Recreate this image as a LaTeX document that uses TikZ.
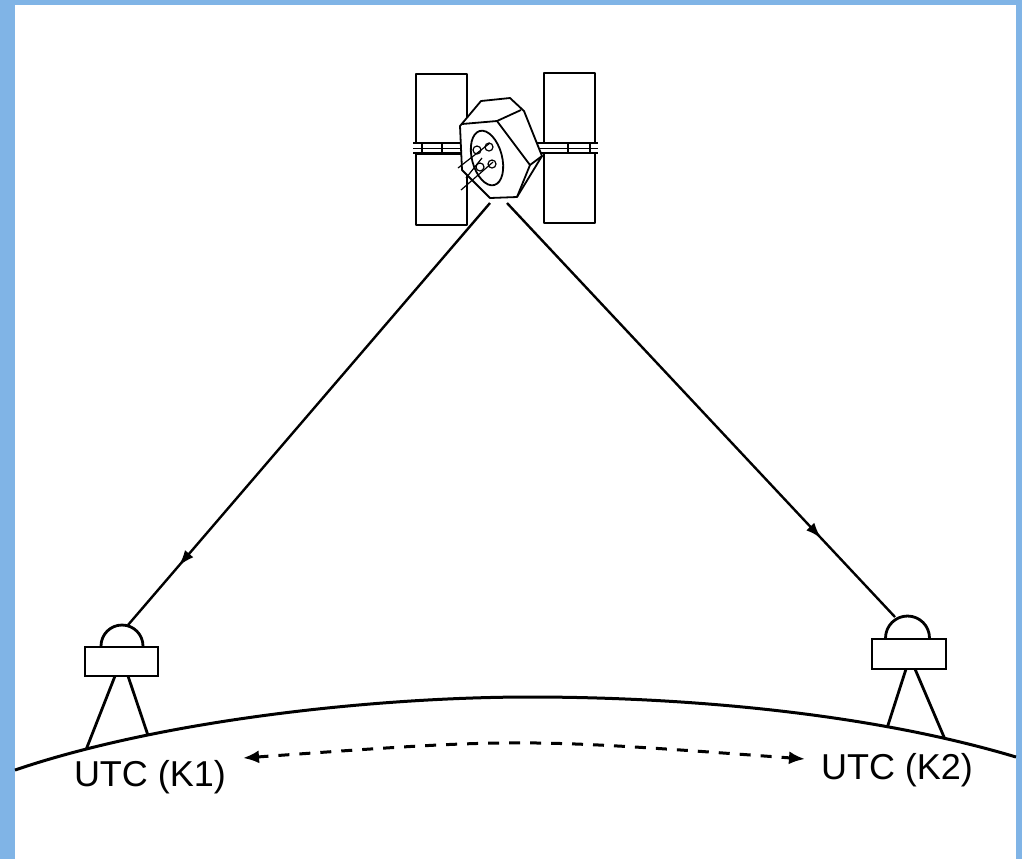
\documentclass[tikz,border=0pt]{standalone}
\usepackage{fontspec}
\setmainfont{Liberation Sans}
\usetikzlibrary{arrows.meta,decorations.markings,intersections}
\definecolor{frameblue}{RGB}{128,180,230}
\begin{document}
\begin{tikzpicture}[x=0.5pt,y=-0.5pt,
  thinline/.style={line width=0.9pt, line join=round},
  ground/.style={line width=1.5pt},
  stand/.style={line width=1.4pt},
  signal/.style={line width=1.2pt, postaction={decorate},
    decoration={markings, mark=at position #1 with {\arrow{Latex[length=8pt,width=5.5pt]}}}},
  link/.style={line width=1.5pt, dash pattern=on 5.5pt off 5pt, {Latex[length=8pt,width=6.5pt]}-{Latex[length=8pt,width=6.5pt]}},
  utc/.style={font=\fontsize{18pt}{20pt}\selectfont, inner sep=0pt}]

% frame and canvas
\fill[frameblue] (0,0) rectangle (1022,859);
\fill[white] (15,5) rectangle (1016,859);

% ---------- satellite ----------
% solar panels
\draw[thinline] (416,74) rectangle (467,143);
\draw[thinline] (416,154) rectangle (467,225);
\draw[thinline] (544,73) rectangle (595,143);
\draw[thinline] (544,153) rectangle (595,223);
% booms
\draw[thinline] (413,143) -- (465,143) (413,153) -- (465,153);
\draw[line width=0.5pt] (413,148) -- (465,148);
\draw[thinline] (422,143) -- (422,153) (442,143) -- (442,153);
\draw[thinline] (520,143) -- (598,143) (540,153) -- (598,153);
\draw[line width=0.5pt] (540,148) -- (598,148);
\draw[thinline] (568,143) -- (568,153) (590,143) -- (590,153);
% body
\draw[thinline, fill=white] (460,126) -- (481,101) -- (510,98) -- (524,111) -- (542,156)
  -- (517,197) -- (490,198) -- (462,170) -- cycle;
\draw[thinline] (462,124) -- (497,121) -- (521,110);
\draw[thinline] (497,121) -- (530,165) -- (517,197);
\draw[thinline] (530,165) -- (542,156);
\draw[thinline, rotate around={15:(487,158)}] (487,158) ellipse[x radius=15, y radius=28];
\foreach \p in {(477,150),(489,147),(480,167),(492,164)}
  \draw[line width=0.6pt] \p circle[radius=4];
\draw[line width=0.6pt] (458,168) -- (490,143) (461,190) -- (493,162) (466,178) -- (482,158);

% signal emission points and station domes
\coordinate (satL) at (490,203);
\coordinate (satR) at (507,203);
\coordinate (k1top) at (128,625);
\coordinate (k2top) at (895,617);

% ---------- ground ----------
\draw[ground, name path=earth] (15,770) .. controls (165,719) and (380,697) .. (530,697)
  .. controls (680,697) and (866,712) .. (1016,757);

% ---------- stations ----------
\path[name path=legA] (115,676) -- (80,765);
\path[name path=legB] (128,676) -- (155,756);
\path[name path=legC] (906,669) -- (880,750);
\path[name path=legD] (915,669) -- (953,758);
\path[name intersections={of=earth and legA, by=footA}];
\path[name intersections={of=earth and legB, by=footB}];
\path[name intersections={of=earth and legC, by=footC}];
\path[name intersections={of=earth and legD, by=footD}];

\draw[stand] (85,647) rectangle (158,676);
\draw[stand] (101,646) arc[start angle=180, end angle=360, radius=21];
\draw[stand] (115,676) -- (footA) (128,676) -- (footB);

\draw[stand] (872,639) rectangle (946,669);
\draw[stand] (885.5,638) arc[start angle=180, end angle=360, radius=22];
\draw[stand] (906,669) -- (footC) (915,669) -- (footD);

% ---------- signals ----------
\draw[signal=0.86] (satL) -- (k1top);
\draw[signal=0.81] (satR) -- (k2top);

% ---------- labels and time link ----------
\node[utc] (k1) at (150,777) {UTC (K1)};
\node[utc] (k2) at (897,770) {UTC (K2)};
\coordinate (linkL) at (243,758);
\coordinate (linkR) at (805,759);
\draw[link] (linkL) .. controls (520,738) .. (linkR);
\end{tikzpicture}
\end{document}
